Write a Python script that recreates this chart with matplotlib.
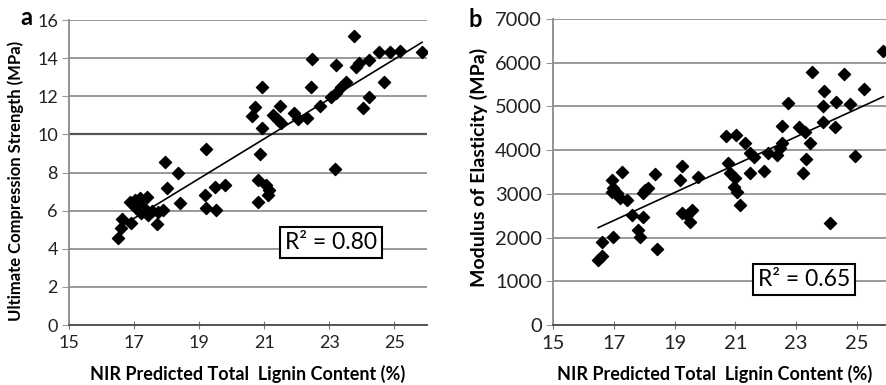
import matplotlib.pyplot as plt
import numpy as np

# panel a: lignin content vs ultimate compression strength
lignin_a = [16.51, 16.59, 16.62, 16.92, 16.87, 17.02, 17.18, 17.40, 17.07, 17.28,
            17.43, 17.69, 17.74, 17.89, 17.94, 18.00, 18.35, 18.40, 17.12, 17.20,
            17.55, 19.22, 19.17, 19.22, 19.53, 19.48, 19.79, 20.81, 20.81, 20.88,
            21.06, 21.10, 21.15, 20.94, 20.71, 20.63, 20.93, 21.47, 21.27, 21.42,
            21.52, 21.90, 22.03, 22.32, 22.46, 22.44, 22.70, 23.18, 23.21, 23.06,
            23.21, 23.36, 23.50, 23.77, 23.83, 23.90, 24.21, 24.03, 24.21, 24.52,
            24.69, 24.85, 25.17, 25.85]
ucs = [4.55, 5.07, 5.54, 5.37, 6.47, 6.56, 6.65, 6.73, 6.12, 6.21,
       5.77, 5.28, 5.94, 6.03, 8.57, 7.17, 7.99, 6.39, 6.35, 5.90,
       6.00, 9.22, 6.82, 6.12, 6.03, 7.26, 7.35, 6.47, 7.60, 8.97,
       7.35, 6.80, 7.10, 12.47, 11.42, 10.97, 10.32, 11.49, 11.02, 10.76,
       10.58, 11.10, 10.79, 10.84, 13.94, 12.47, 11.49, 8.18, 13.64, 11.98,
       12.16, 12.47, 12.77, 15.18, 13.55, 13.76, 13.90, 11.37, 11.98, 14.34,
       12.77, 14.34, 14.39, 14.34]

# panel b: lignin content vs modulus of elasticity
lignin_b = [25.88, 23.54, 24.58, 25.24, 23.93, 24.32, 23.88, 24.78, 22.75, 23.88,
            24.29, 22.53, 23.11, 23.30, 23.46, 23.33, 23.22, 24.95, 24.12, 20.69,
            21.01, 21.32, 21.49, 21.60, 22.09, 22.37, 22.53, 22.47, 21.95, 21.49,
            20.77, 20.83, 21.00, 20.96, 21.05, 21.16, 19.23, 19.18, 19.78, 19.23,
            19.56, 19.51, 19.40, 18.35, 18.03, 18.13, 17.97, 17.25, 16.92, 16.98,
            16.92, 17.09, 17.20, 17.42, 17.58, 17.97, 17.80, 17.86, 18.41, 16.98,
            16.60, 16.62, 16.48]
moe = [6277, 5797, 5743, 5393, 5362, 5110, 5011, 5050, 5073, 4652,
       4537, 4553, 4537, 4423, 4157, 3791, 3485, 3874, 2341, 4324,
       4347, 4171, 3928, 3851, 3928, 3890, 4157, 4043, 3530, 3485,
       3700, 3470, 3357, 3164, 3050, 2746, 3645, 3318, 3393, 2555,
       2631, 2364, 2517, 3455, 3089, 3128, 3013, 3508, 3318, 3128,
       3050, 3013, 2899, 2860, 2517, 2479, 2174, 2021, 1732, 2006,
       1906, 1579, 1487]

xticks = [15, 17, 19, 21, 23, 25]
yticks_a = [0, 2, 4, 6, 8, 10, 12, 14, 16]
yticks_b = [0, 1000, 2000, 3000, 4000, 5000, 6000, 7000]

plt.rcParams["font.family"] = ["Lato", "DejaVu Sans"]

fig = plt.figure(figsize=(8.87, 3.85), dpi=100)
ax1 = fig.add_axes([0.0778, 0.1558, 0.4036, 0.7922])
ax2 = fig.add_axes([0.6238, 0.1558, 0.3762, 0.7948])


def style_axis(ax, x, y, yticks, ylabel, r2_text, box_xy, ylab_xy, xlab_xy,
               tick_size, ylab_size):
    ax.set_xlim(15, 26)
    ax.set_ylim(yticks[0], yticks[-1])
    ax.set_xticks(xticks)
    ax.set_yticks(yticks)
    ax.grid(axis="y", color="#999999", linewidth=1.4)
    ax.set_axisbelow(True)
    for side in ["top", "right"]:
        ax.spines[side].set_visible(False)
    ax.spines["left"].set_color("#8a8a8a")
    ax.spines["left"].set_linewidth(1.3)
    ax.spines["bottom"].set_color("#555555")
    ax.spines["bottom"].set_linewidth(1.4)
    ax.tick_params(axis="x", direction="inout", length=6, color="#777777",
                   labelsize=tick_size, pad=4, labelcolor="#222222")
    ax.tick_params(axis="y", length=5, color="#999999", labelsize=tick_size,
                   pad=3, labelcolor="#222222")

    ax.scatter(x, y, marker="D", s=38, color="black", zorder=3)

    slope, intercept = np.polyfit(x, y, 1)
    xs = np.array([min(x), max(x)])
    ax.plot(xs, slope * xs + intercept, color="black", linewidth=1.2, zorder=4)

    ax.set_xlabel("NIR Predicted Total  Lignin Content (%)", fontsize=13,
                  fontweight="bold")
    ax.set_ylabel(ylabel, fontsize=ylab_size, fontweight="bold")
    ax.xaxis.set_label_coords(*xlab_xy)
    ax.yaxis.set_label_coords(*ylab_xy)

    ax.text(box_xy[0], box_xy[1], r2_text, transform=ax.transAxes,
            ha="center", va="center", fontsize=16.5, zorder=5,
            bbox=dict(boxstyle="square,pad=0.22", facecolor="white",
                      edgecolor="black", linewidth=1.5))


style_axis(ax1, lignin_a, ucs, yticks_a, "Ultimate Compression Strength (MPa)",
           "R\u00b2 = 0.80", (0.732, 0.27), (-0.125, 0.472), (0.5, -0.131),
           13, 12)
ax1.axhline(10, color="#555555", linewidth=1.6, zorder=1)

style_axis(ax2, lignin_b, moe, yticks_b, "Modulus of Elasticity (MPa)",
           "R\u00b2 = 0.65", (0.751, 0.15), (-0.195, 0.515), (0.483, -0.131),
           14.5, 14)

fig.text(0.023, 0.955, "a", fontsize=17, fontweight="bold", ha="left", va="center")
fig.text(0.528, 0.95, "b", fontsize=17, fontweight="bold", ha="left", va="center")

fig.savefig("out.png", dpi=100)
